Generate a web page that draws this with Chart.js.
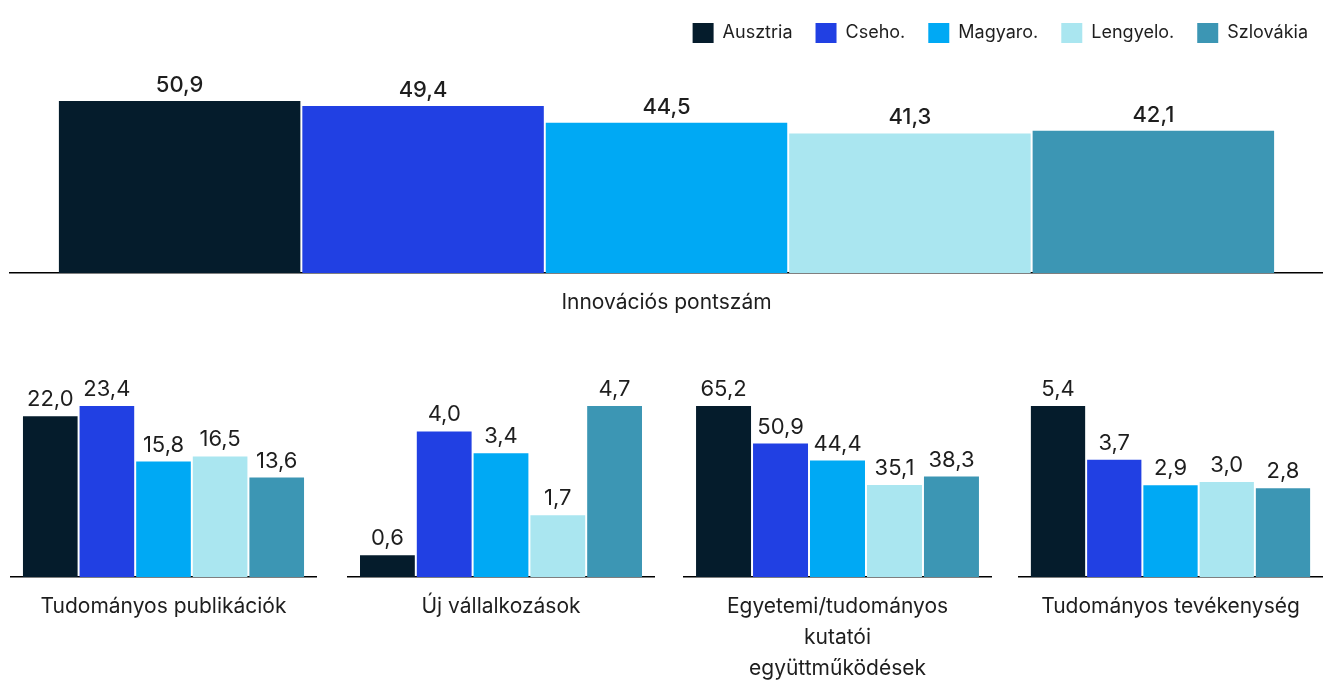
<!DOCTYPE html>
<html lang="hu">
<head>
<meta charset="utf-8">
<title>Innovációs pontszám</title>
<script src="https://cdn.jsdelivr.net/npm/chart.js@4.4.1/dist/chart.umd.min.js"></script>
<style>
  html, body { margin: 0; padding: 0; background: #fff; }
  body { width: 1323px; height: 680px; position: relative; overflow: hidden; }
  canvas { position: absolute; }
</style>
</head>
<body>
<canvas id="innovation" width="1323" height="330" style="left:0;top:0"></canvas>
<canvas id="publications" width="307" height="320" style="left:10px;top:360px"></canvas>
<canvas id="newBusinesses" width="308" height="320" style="left:347px;top:360px"></canvas>
<canvas id="collaborations" width="309" height="320" style="left:683px;top:360px"></canvas>
<canvas id="scienceActivity" width="305" height="320" style="left:1018px;top:360px"></canvas>
<script>
// data
const countries = ['Ausztria', 'Cseho.', 'Magyaro.', 'Lengyelo.', 'Szlovákia'];
const innovationScore = [50.9, 49.4, 44.5, 41.3, 42.1];
const publications = [22.0, 23.4, 15.8, 16.5, 13.6];
const newBusinesses = [0.6, 4.0, 3.4, 1.7, 4.7];
const collaborations = [65.2, 50.9, 44.4, 35.1, 38.3];
const scienceActivity = [5.4, 3.7, 2.9, 3.0, 2.8];

const colors = ['#051c2c', '#2140e3', '#00a9f4', '#aae6f0', '#3c96b4'];
const fontFamily = 'Inter, "Noto Sans", "Liberation Sans", sans-serif';
const textColor = '#1e1e1e';

Chart.defaults.font.family = fontFamily;
Chart.defaults.color = textColor;

function fmt(v) {
    return v.toFixed(1).replace('.', ',');
}

// value above every bar
const valueLabels = {
    id: 'valueLabels',
    afterDatasetsDraw(chart, args, opts) {
        const ctx = chart.ctx;
        ctx.save();
        ctx.font = opts.weight + ' ' + opts.size + 'px ' + fontFamily;
        ctx.fillStyle = textColor;
        ctx.textAlign = 'center';
        ctx.textBaseline = 'alphabetic';
        chart.data.datasets.forEach((ds, i) => {
            chart.getDatasetMeta(i).data.forEach((bar, j) => {
                ctx.fillText(fmt(ds.data[j]), bar.x, bar.y - opts.gap);
            });
        });
        ctx.restore();
    }
};

// legend takes a fixed height so the plot starts where it should,
// and sits a little closer to the right edge
const legendSpace = {
    id: 'legendSpace',
    beforeLayout(chart, args, opts) {
        const legend = chart.legend;
        if (!legend || legend._spaced) return;
        const fit = legend.fit;
        legend.fit = function () {
            fit.call(this);
            this.height = opts.height;
        };
        legend._spaced = true;
    },
    afterLayout(chart, args, opts) {
        chart.legend.left += opts.shift;
        chart.legend.right += opts.shift;
    }
};

function makeDatasets(values, barPct) {
    return countries.map((c, i) => ({
        label: c,
        data: [values[i]],
        backgroundColor: colors[i],
        borderWidth: 0,
        categoryPercentage: barPct.cat,
        barPercentage: barPct.bar
    }));
}

function xScale(axisHeight) {
    return {
        grid: { display: false, drawTicks: false },
        border: { display: true, color: '#000', width: 1.5 },
        ticks: {
            padding: 14,
            color: textColor,
            font: { size: 21, lineHeight: 1.48 }
        },
        afterFit(scale) { scale.height = axisHeight; }
    };
}

new Chart('innovation', {
    type: 'bar',
    data: {
        labels: ['Innovációs pontszám'],
        datasets: makeDatasets(innovationScore, { cat: 0.927, bar: 0.992 })
    },
    options: {
        responsive: false,
        animation: false,
        layout: { padding: { left: 10 } },
        plugins: {
            legend: {
                position: 'top',
                align: 'end',
                labels: {
                    boxWidth: 21,
                    boxHeight: 20,
                    padding: 23,
                    color: textColor,
                    font: { size: 18 }
                }
            },
            legendSpace: { height: 101, shift: 8 },
            tooltip: { enabled: false },
            valueLabels: { size: 22, weight: 500, gap: 9 }
        },
        scales: {
            x: xScale(57),
            y: { display: false, min: 0, max: Math.max(...innovationScore) }
        }
    },
    plugins: [legendSpace, valueLabels]
});

function smallChart(id, label, values) {
    return new Chart(id, {
        type: 'bar',
        data: {
            labels: [label],
            datasets: makeDatasets(values, { cat: 0.922, bar: 0.965 })
        },
        options: {
            responsive: false,
            animation: false,
            layout: { padding: { top: 46 } },
            plugins: {
                legend: { display: false },
                tooltip: { enabled: false },
                valueLabels: { size: 22, weight: 400, gap: 10 }
            },
            scales: {
                x: xScale(103),
                y: { display: false, min: 0, max: Math.max(...values) }
            }
        },
        plugins: [valueLabels]
    });
}

smallChart('publications', 'Tudományos publikációk', publications);
smallChart('newBusinesses', 'Új vállalkozások', newBusinesses);
smallChart('collaborations', ['Egyetemi/tudományos', 'kutatói', 'együttműködések'], collaborations);
smallChart('scienceActivity', 'Tudományos tevékenység', scienceActivity);
</script>
</body>
</html>
